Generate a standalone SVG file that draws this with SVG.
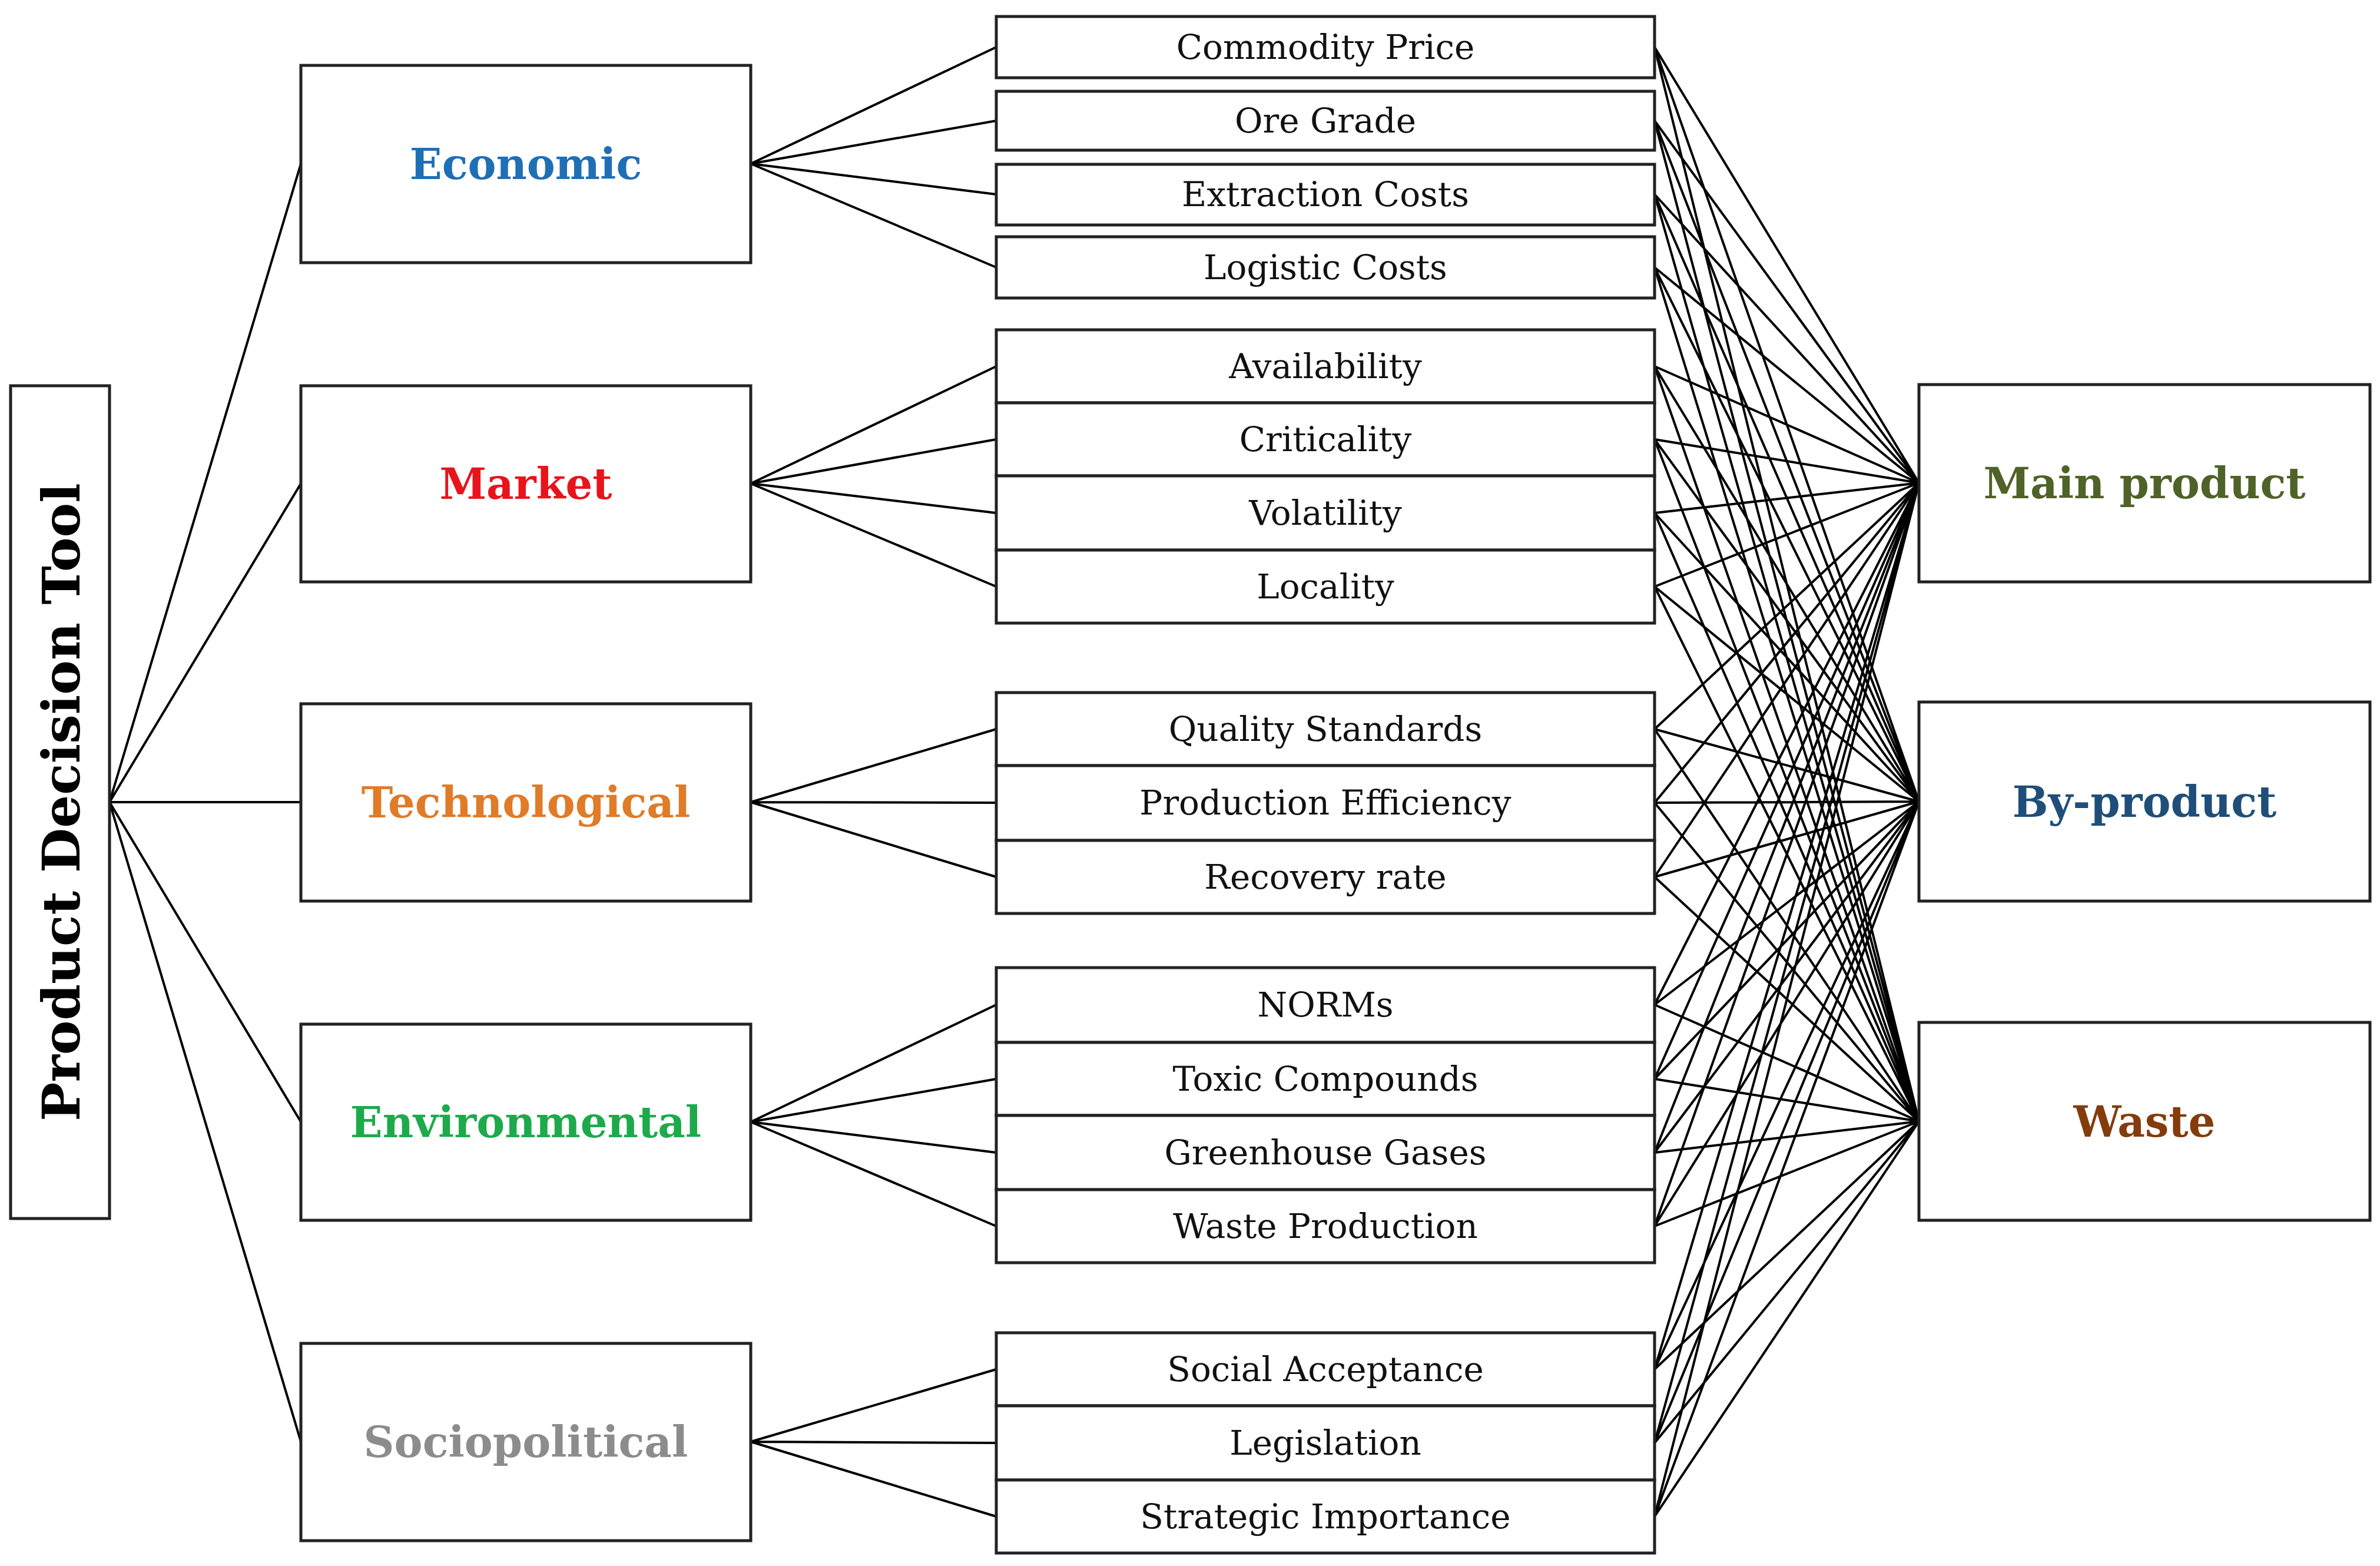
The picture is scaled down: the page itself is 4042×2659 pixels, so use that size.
<svg xmlns="http://www.w3.org/2000/svg" width="4042" height="2659" viewBox="0 0 4042 2659">
<style>
rect{fill:#fff;stroke:#222;stroke-width:5}
.c path{fill:none;stroke:#000;stroke-width:4}
text{font-family:"DejaVu Serif","Liberation Serif",serif;text-anchor:middle;dominant-baseline:central}
.cat{font-size:72px;font-weight:bold}
.f{font-size:58px;fill:#111}
</style>
<g class="c" id="connectors">
<path d="M186 1362L511 278M186 1362L511 821M186 1362L511 1362M186 1362L511 1905M186 1362L511 2448"/>
<path d="M1275 278L1692 80M1275 278L1692 205M1275 278L1692 330M1275 278L1692 454"/>
<path d="M1275 821L1692 622M1275 821L1692 746M1275 821L1692 871M1275 821L1692 996"/>
<path d="M1275 1362L1692 1238M1275 1362L1692 1363M1275 1362L1692 1489"/>
<path d="M1275 1905L1692 1706M1275 1905L1692 1832M1275 1905L1692 1957M1275 1905L1692 2082"/>
<path d="M1275 2448L1692 2325M1275 2448L1692 2450M1275 2448L1692 2575"/>
<path d="M2810 80L3259 820M2810 80L3259 1361M2810 80L3259 1904
M2810 205L3259 820M2810 205L3259 1361M2810 205L3259 1904
M2810 330L3259 820M2810 330L3259 1361M2810 330L3259 1904
M2810 454L3259 820M2810 454L3259 1361M2810 454L3259 1904
M2810 622L3259 820M2810 622L3259 1361M2810 622L3259 1904
M2810 746L3259 820M2810 746L3259 1361M2810 746L3259 1904
M2810 871L3259 820M2810 871L3259 1361M2810 871L3259 1904
M2810 996L3259 820M2810 996L3259 1361M2810 996L3259 1904
M2810 1238L3259 820M2810 1238L3259 1361M2810 1238L3259 1904
M2810 1363L3259 820M2810 1363L3259 1361M2810 1363L3259 1904
M2810 1489L3259 820M2810 1489L3259 1361M2810 1489L3259 1904
M2810 1706L3259 820M2810 1706L3259 1361M2810 1706L3259 1904
M2810 1832L3259 820M2810 1832L3259 1361M2810 1832L3259 1904
M2810 1957L3259 820M2810 1957L3259 1361M2810 1957L3259 1904
M2810 2082L3259 820M2810 2082L3259 1361M2810 2082L3259 1904
M2810 2325L3259 820M2810 2325L3259 1361M2810 2325L3259 1904
M2810 2450L3259 820M2810 2450L3259 1361M2810 2450L3259 1904
M2810 2575L3259 820M2810 2575L3259 1361M2810 2575L3259 1904"/>
</g>
<g id="pdt"><rect x="18" y="655" width="168" height="1414"/><text class="cat" transform="translate(104 1362) rotate(-90)" style="font-size:88px">Product Decision Tool</text></g>
<g id="economic"><rect x="511" y="111" width="764" height="335"/><text class="cat" x="893" y="278" fill="#1F6FB5">Economic</text></g>
<g id="market"><rect x="511" y="655" width="764" height="333"/><text class="cat" x="893" y="821" fill="#E8141C">Market</text></g>
<g id="technological"><rect x="511" y="1195" width="764" height="335"/><text class="cat" x="893" y="1362" fill="#E07B28">Technological</text></g>
<g id="environmental"><rect x="511" y="1739" width="764" height="333"/><text class="cat" x="893" y="1905" fill="#1DAA4B">Environmental</text></g>
<g id="sociopolitical"><rect x="511" y="2281" width="764" height="335"/><text class="cat" x="893" y="2448" fill="#8C8C8C">Sociopolitical</text></g>
<g id="f1"><rect x="1692" y="28" width="1118" height="104"/><text class="f" x="2251" y="80">Commodity Price</text></g>
<g id="f2"><rect x="1692" y="155" width="1118" height="100"/><text class="f" x="2251" y="205">Ore Grade</text></g>
<g id="f3"><rect x="1692" y="279" width="1118" height="103"/><text class="f" x="2251" y="330">Extraction Costs</text></g>
<g id="f4"><rect x="1692" y="402" width="1118" height="104"/><text class="f" x="2251" y="454">Logistic Costs</text></g>
<g id="f5"><rect x="1692" y="560" width="1118" height="124"/><text class="f" x="2251" y="622">Availability</text></g>
<g id="f6"><rect x="1692" y="684" width="1118" height="124"/><text class="f" x="2251" y="746">Criticality</text></g>
<g id="f7"><rect x="1692" y="808" width="1118" height="126"/><text class="f" x="2251" y="871">Volatility</text></g>
<g id="f8"><rect x="1692" y="934" width="1118" height="124"/><text class="f" x="2251" y="996">Locality</text></g>
<g id="f9"><rect x="1692" y="1176" width="1118" height="124"/><text class="f" x="2251" y="1238">Quality Standards</text></g>
<g id="f10"><rect x="1692" y="1300" width="1118" height="127"/><text class="f" x="2251" y="1363">Production Efficiency</text></g>
<g id="f11"><rect x="1692" y="1427" width="1118" height="124"/><text class="f" x="2251" y="1489">Recovery rate</text></g>
<g id="f12"><rect x="1692" y="1643" width="1118" height="127"/><text class="f" x="2251" y="1706">NORMs</text></g>
<g id="f13"><rect x="1692" y="1770" width="1118" height="124"/><text class="f" x="2251" y="1832">Toxic Compounds</text></g>
<g id="f14"><rect x="1692" y="1894" width="1118" height="126"/><text class="f" x="2251" y="1957">Greenhouse Gases</text></g>
<g id="f15"><rect x="1692" y="2020" width="1118" height="124"/><text class="f" x="2251" y="2082">Waste Production</text></g>
<g id="f16"><rect x="1692" y="2263" width="1118" height="124"/><text class="f" x="2251" y="2325">Social Acceptance</text></g>
<g id="f17"><rect x="1692" y="2387" width="1118" height="126"/><text class="f" x="2251" y="2450">Legislation</text></g>
<g id="f18"><rect x="1692" y="2513" width="1118" height="124"/><text class="f" x="2251" y="2575">Strategic Importance</text></g>
<g id="main"><rect x="3259" y="653" width="766" height="335"/><text class="cat" x="3642" y="820" fill="#4F6228">Main product</text></g>
<g id="byproduct"><rect x="3259" y="1192" width="766" height="338"/><text class="cat" x="3642" y="1361" fill="#1F4E79">By-product</text></g>
<g id="waste"><rect x="3259" y="1736" width="766" height="336"/><text class="cat" x="3642" y="1904" fill="#843C0C">Waste</text></g>
</svg>
